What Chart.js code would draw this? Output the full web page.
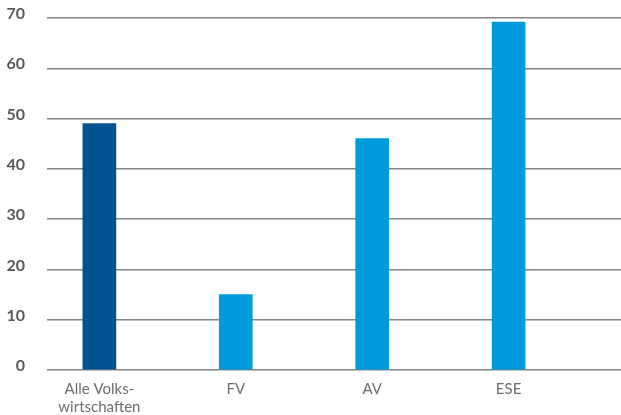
<!DOCTYPE html>
<html>
<head>
<meta charset="utf-8">
<script src="https://cdn.jsdelivr.net/npm/chart.js@4.4.1/dist/chart.umd.min.js"></script>
<style>
  html, body { margin: 0; padding: 0; background: #fff; }
  #wrap { width: 621px; height: 415px; position: relative; }
</style>
</head>
<body>
<div id="wrap"><canvas id="chart"></canvas></div>
<script>
// --- Daten ---
const categories = [['Alle Volks-', 'wirtschaften'], 'FV', 'AV', 'ESE'];
const values = [49, 15, 46, 69.2];
const barColors = ['#00538f', '#009bdb', '#009bdb', '#009bdb'];
const yTicks = [0, 10, 20, 30, 40, 50, 60, 70];

(function () {
    const el = document.getElementById('chart');

    const points = values.map((v, i) => ({ x: i, y: v }));

    new Chart(el, {
        type: 'bar',
        data: {
            datasets: [{
                data: points,
                backgroundColor: barColors,
                borderWidth: 0,
                barThickness: 33
            }]
        },
        options: {
            responsive: true,
            maintainAspectRatio: false,
            animation: false,
            layout: { padding: { top: 18, right: 0, left: 0, bottom: 0 } },
            plugins: { legend: { display: false }, tooltip: { enabled: false } },
            scales: {
                x: {
                    type: 'linear',
                    offset: false,
                    min: -0.384,
                    max: 3.824,
                    grid: { display: false },
                    border: { display: false },
                    afterBuildTicks: axis => { axis.ticks = categories.map((c, i) => ({ value: i })); },
                    afterFit: axis => { axis.height = 45; },
                    ticks: {
                        autoSkip: false,
                        maxRotation: 0,
                        padding: 2,
                        color: '#6d6e71',
                        font: { family: 'Lato', size: 15 },
                        callback: v => categories[v] ?? ''
                    }
                },
                y: {
                    min: 0,
                    max: 70,
                    grid: { color: '#858585', lineWidth: 1.5, drawTicks: false },
                    border: { display: false },
                    afterBuildTicks: axis => { axis.ticks = yTicks.map(v => ({ value: v })); },
                    // Platz links fix, kein Extra-Padding oben/unten durch die Labels
                    afterFit: axis => { axis.width = 47; axis.paddingTop = 0; axis.paddingBottom = 0; },
                    ticks: {
                        padding: 22,
                        labelOffset: -4,
                        color: '#58595b',
                        font: { family: 'Lato', size: 16, weight: 'bold' }
                    }
                }
            }
        }
    });
})();
</script>
</body>
</html>
